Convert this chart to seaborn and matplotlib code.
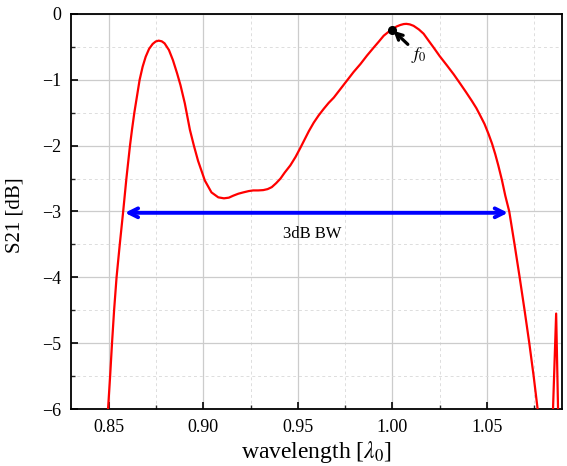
import matplotlib
matplotlib.use("Agg")
import matplotlib.pyplot as plt
import seaborn as sns
import numpy as np
import pandas as pd
from matplotlib.ticker import MultipleLocator

# ---- data ----
wavelength = [
    0.8488, 0.8496, 0.8507, 0.8517, 0.8528, 0.8541, 0.8558, 0.8576, 0.8593,
    0.8612, 0.8623, 0.8635, 0.8649, 0.8663, 0.8679, 0.8695, 0.8713, 0.8732,
    0.8748, 0.8764, 0.8780, 0.8795, 0.8818, 0.8839, 0.8861, 0.8879, 0.8902,
    0.8929, 0.8950, 0.8972, 0.9008, 0.9043, 0.9079, 0.9109, 0.9135, 0.9158,
    0.9185, 0.9211, 0.9240, 0.9264, 0.9290, 0.9317, 0.9340, 0.9362, 0.9385,
    0.9408, 0.9430, 0.9460, 0.9488, 0.9512, 0.9535, 0.9558, 0.9584, 0.9610,
    0.9637, 0.9663, 0.9690, 0.9725, 0.9760, 0.9795, 0.9831, 0.9866, 0.9901,
    0.9928, 0.9954, 0.9980, 1.0002, 1.0022, 1.0042, 1.0060, 1.0074, 1.0092,
    1.0112, 1.0140, 1.0165, 1.0190, 1.0218, 1.0250, 1.0288, 1.0325, 1.0359,
    1.0390, 1.0420, 1.0444, 1.0464, 1.0487, 1.0508, 1.0527, 1.0544, 1.0560,
    1.0579, 1.0597, 1.0618, 1.0646, 1.0673, 1.0699, 1.0724, 1.0747, 1.0768,
    1.0790, 1.0820, 1.0838, 1.0866, 1.0885,
]
s21 = [
    -6.30, -6.00, -5.50, -5.00, -4.50, -4.00, -3.50, -3.00, -2.50,
    -2.00, -1.75, -1.50, -1.25, -1.00, -0.80, -0.65, -0.53, -0.455,
    -0.418, -0.405, -0.415, -0.446, -0.547, -0.70, -0.90, -1.08, -1.357,
    -1.76, -2.00, -2.23, -2.53, -2.71, -2.785, -2.80, -2.79, -2.76,
    -2.73, -2.71, -2.69, -2.68, -2.68, -2.675, -2.66, -2.63, -2.57,
    -2.50, -2.41, -2.30, -2.17, -2.04, -1.91, -1.78, -1.65, -1.54,
    -1.44, -1.35, -1.27, -1.14, -1.01, -0.88, -0.76, -0.63, -0.51,
    -0.42, -0.33, -0.27, -0.23, -0.19, -0.167, -0.153, -0.150, -0.158,
    -0.18, -0.235, -0.30, -0.40, -0.51, -0.64, -0.78, -0.92, -1.06,
    -1.19, -1.32, -1.43, -1.54, -1.67, -1.82, -1.97, -2.13, -2.30,
    -2.52, -2.76, -3.00, -3.50, -4.00, -4.50, -5.00, -5.50, -6.00,
    -6.40, -7.00, -7.00, -4.55, -7.30,
]
f0_point = (1.0, -0.24)
f0_label = "$f_0$"
bw_start = 0.8585
bw_end = 1.0611
bw_level = -3.02
bw_label = "3dB BW"
x_ticks = [0.85, 0.90, 0.95, 1.00, 1.05]
x_tick_labels = ["0.85", "0.90", "0.95", "1.00", "1.05"]
y_ticks = [0, -1, -2, -3, -4, -5, -6]
y_tick_labels = ["0", "\u22121", "\u22122", "\u22123", "\u22124", "\u22125", "\u22126"]
x_label = "wavelength [$\\lambda_0$]"
y_label = "S21 [dB]"

df = pd.DataFrame({"wavelength": wavelength, "S21": s21})

sns.set_theme(style="white")
plt.rcParams["font.family"] = ["serif"]
plt.rcParams["font.serif"] = ["Liberation Serif", "DejaVu Serif"]
plt.rcParams["mathtext.fontset"] = "stix"

fig = plt.figure(figsize=(5.67, 4.66), dpi=100)
ax = fig.add_axes([0.1252, 0.1223, 0.8660, 0.8477])

sns.lineplot(data=df, x="wavelength", y="S21", ax=ax, color="#ff0000",
             linewidth=1.6, estimator=None, sort=False, zorder=3)

ax.set_xlim(0.830, 1.0897)
ax.set_ylim(-6, 0)

ax.set_xticks(x_ticks)
ax.set_xticklabels(x_tick_labels)
ax.set_yticks(y_ticks)
ax.set_yticklabels(y_tick_labels)
ax.xaxis.set_minor_locator(MultipleLocator(0.025))
ax.yaxis.set_minor_locator(MultipleLocator(0.5))

ax.grid(True, which="major", color="#cccccc", linewidth=0.9, linestyle="-", zorder=0)
ax.grid(True, which="minor", color="#dddddd", linewidth=0.7, linestyle=(0, (3, 3)), zorder=0)
ax.set_axisbelow(True)

ax.tick_params(axis="both", which="major", direction="in", length=5, width=1.2,
               labelsize=13, colors="black", top=False, right=False,
               bottom=True, left=True, pad=7)
ax.tick_params(axis="both", which="minor", direction="in", length=3, width=1.0,
               top=False, right=False, bottom=True, left=True)

for sp in ax.spines.values():
    sp.set_color("black")
    sp.set_linewidth(1.3)

ax.set_xlabel(x_label, fontsize=17, color="black", labelpad=2)
ax.set_ylabel(y_label, fontsize=15, color="black", labelpad=3)
ax.yaxis.set_label_coords(-0.095, 0.49)

# 3dB bandwidth arrow
ax.annotate("", xy=(bw_start, bw_level), xytext=(bw_end, bw_level),
            arrowprops=dict(arrowstyle="<->", color="#0000ff", lw=2.8,
                            shrinkA=0, shrinkB=0, mutation_scale=16),
            zorder=4)
ax.text((bw_start + bw_end) / 2 - 0.002, -3.34, bw_label, fontsize=12,
        ha="center", va="center", color="black")

# f0 marker and annotation
ax.plot([f0_point[0]], [f0_point[1]], "o", color="black", markersize=5.5, zorder=5)
ax.annotate(f0_label, xy=f0_point, xytext=(1.0140, -0.62),
            fontsize=13, ha="center", va="center", color="black",
            arrowprops=dict(arrowstyle="->", color="black", lw=2.3,
                            shrinkA=0, shrinkB=1, mutation_scale=12),
            zorder=6)

fig.savefig("out.png", dpi=100)
